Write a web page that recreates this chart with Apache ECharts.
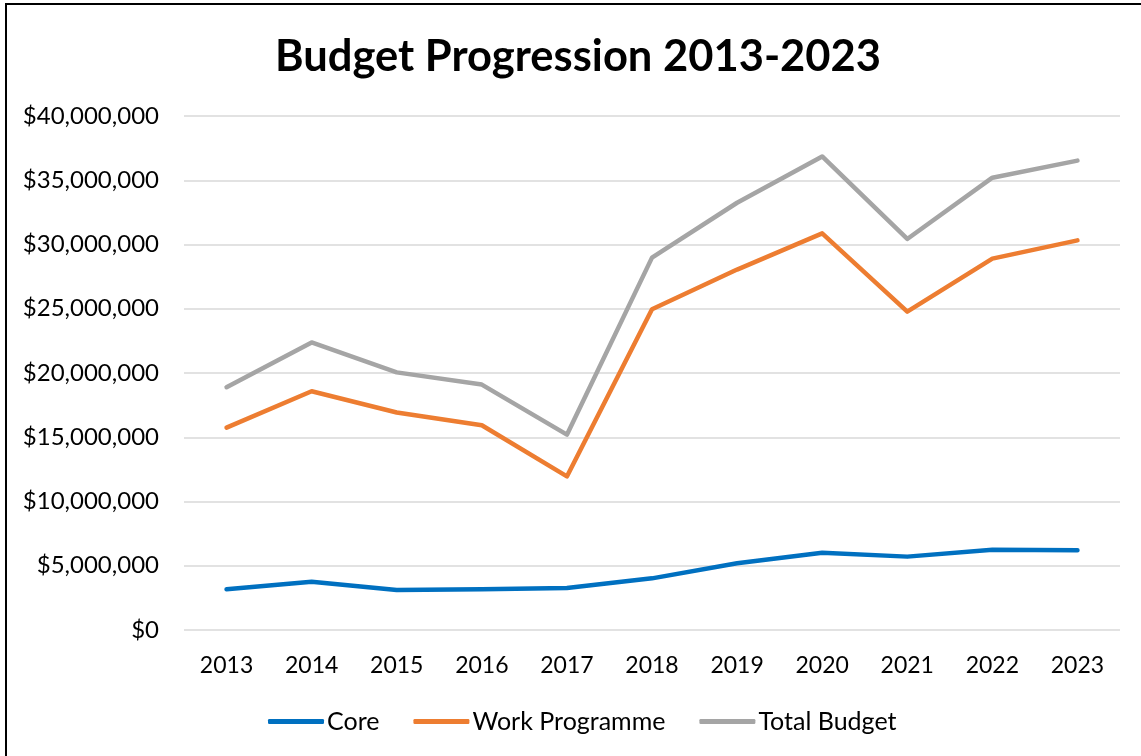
<!DOCTYPE html>
<html>
<head>
<meta charset="utf-8">
<title>Budget Progression 2013-2023</title>
<script src="https://cdn.jsdelivr.net/npm/echarts@6/dist/echarts.min.js"></script>
<style>
  html, body { margin: 0; padding: 0; background: #fff; }
  #chart { width: 1141px; height: 756px; }
</style>
</head>
<body>
<div id="chart"></div>
<script>
// Budget figures per year (USD)
const years = ['2013', '2014', '2015', '2016', '2017', '2018', '2019', '2020', '2021', '2022', '2023'];
const core = [3170000, 3760000, 3120000, 3170000, 3270000, 4020000, 5200000, 6020000, 5710000, 6240000, 6200000];
const workProgramme = [15750000, 18580000, 16930000, 15930000, 11950000, 24960000, 28050000, 30870000, 24770000, 28900000, 30320000];
const totalBudget = [18900000, 22380000, 20050000, 19100000, 15200000, 28980000, 33250000, 36850000, 30430000, 35200000, 36530000];

const FONT = 'Lato, "Open Sans", sans-serif';
const chart = echarts.init(document.getElementById('chart'), null, { renderer: 'canvas' });

function lineSeries(name, data, color) {
  return {
    name: name,
    type: 'line',
    data: data,
    symbol: 'none',
    smooth: false,
    lineStyle: { color: color, width: 4.5, cap: 'round', join: 'round' },
    itemStyle: { color: color }
  };
}

chart.setOption({
  animation: false,
  backgroundColor: '#ffffff',
  color: ['#0070C0', '#ED7D31', '#A5A5A5'],
  graphic: [{
    type: 'rect',
    shape: { x: 6, y: 4, width: 1300, height: 900 },
    style: { fill: 'none', stroke: '#000000', lineWidth: 2 },
    silent: true
  }],
  title: {
    text: 'Budget Progression 2013-2023',
    left: 270,
    top: 30,
    textStyle: { fontFamily: FONT, fontSize: 43.5, fontWeight: 'bold', color: '#000000' }
  },
  grid: { left: 184, right: 21, top: 116, bottom: 126, containLabel: false },
  legend: {
    left: 263,
    top: 704,
    icon: 'roundRect',
    itemWidth: 56,
    itemHeight: 5,
    itemGap: 34,
    textStyle: { fontFamily: FONT, fontSize: 25, color: '#000000', padding: [0, 0, 0, -2] },
    data: ['Core', 'Work Programme', 'Total Budget']
  },
  xAxis: {
    type: 'category',
    data: years,
    boundaryGap: true,
    axisLine: { show: false },
    axisTick: { show: false },
    axisLabel: { margin: 24, fontFamily: FONT, fontSize: 23, color: '#000000' }
  },
  yAxis: {
    type: 'value',
    min: 0,
    max: 40000000,
    interval: 5000000,
    axisLine: { show: false },
    axisTick: { show: false },
    splitLine: { lineStyle: { color: '#d9d9d9', width: 1.5 } },
    axisLabel: {
      margin: 25,
      fontFamily: FONT,
      fontSize: 24,
      color: '#000000',
      formatter: function (v) { return '$' + v.toLocaleString('en-US'); }
    }
  },
  series: [
    lineSeries('Core', core, '#0070C0'),
    lineSeries('Work Programme', workProgramme, '#ED7D31'),
    lineSeries('Total Budget', totalBudget, '#A5A5A5')
  ]
});
</script>
</body>
</html>
